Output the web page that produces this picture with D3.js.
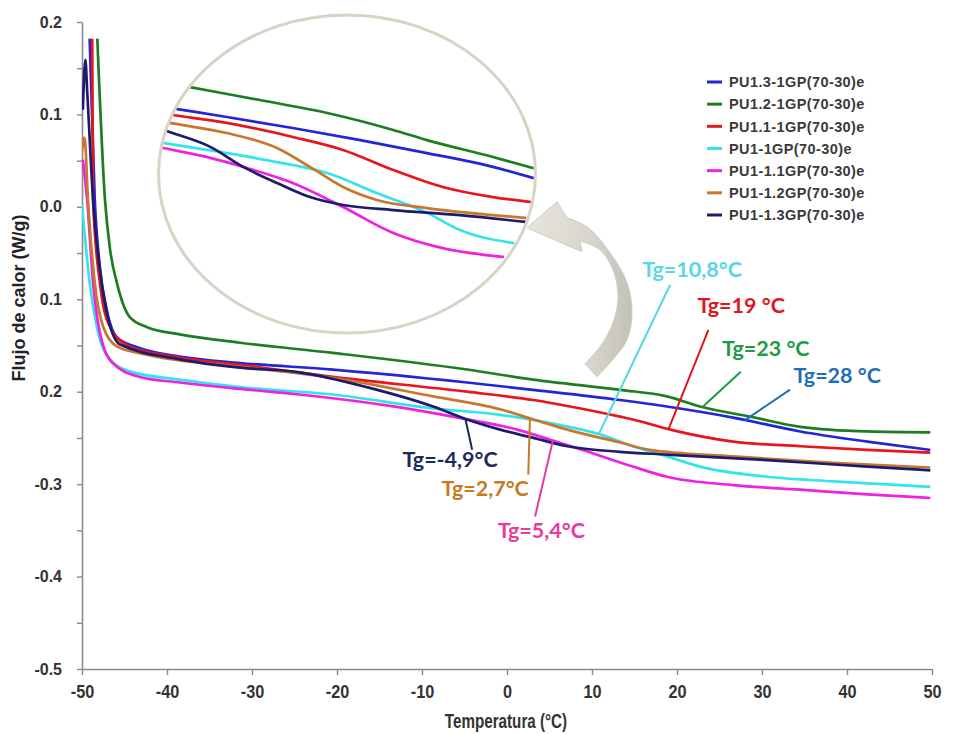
<!DOCTYPE html>
<html>
<head>
<meta charset="utf-8">
<script src="https://cdn.jsdelivr.net/npm/d3@7"></script>
<style>
  body { margin: 0; background: #ffffff; }
  svg { display: block; }
</style>
</head>
<body>
<svg id="chart" width="955" height="734"></svg>
<script>
// ---- Series (temperature in °C, heat flow in W/g) ----
const seriesNames = [
  "PU1.3-1GP(70-30)e", "PU1.2-1GP(70-30)e", "PU1.1-1GP(70-30)e", "PU1-1GP(70-30)e",
  "PU1-1.1GP(70-30)e", "PU1-1.2GP(70-30)e", "PU1-1.3GP(70-30)e"
];
const seriesColors = ["#2525d8", "#1e7d22", "#e8161b", "#33e4ea", "#ee22e0", "#c8772f", "#1c1c6e"];

const tBlue = [-49.1, -48.5, -47.9, -47.1, -45.9, -43.5, -38.5, -31.4, -20.5, -4.7, 3.1, 13.3, 18.8, 26.6, 34.5, 42.4, 49.8];
const qBlue = [0.182, 0.008, -0.065, -0.111, -0.141, -0.152, -0.162, -0.169, -0.176, -0.190, -0.198, -0.209, -0.216, -0.228, -0.243, -0.254, -0.263];

const tGreen = [-48.2, -47.3, -46.7, -45.9, -44.4, -42.4, -38.5, -31.4, -20.5, -4.7, 3.1, 13.3, 18.8, 22.7, 28.6, 34.5, 42.4, 49.8];
const qGreen = [0.182, 0.008, -0.046, -0.082, -0.119, -0.130, -0.138, -0.147, -0.158, -0.176, -0.187, -0.198, -0.205, -0.216, -0.227, -0.238, -0.243, -0.244];

const tRed = [-48.8, -48.7, -47.9, -46.7, -44.4, -38.5, -31.4, -20.5, -4.7, 3.1, 13.3, 14.8, 19.2, 26.6, 34.5, 42.4, 49.8];
const qRed = [0.182, 0.008, -0.082, -0.130, -0.151, -0.163, -0.171, -0.184, -0.200, -0.209, -0.227, -0.230, -0.241, -0.254, -0.259, -0.263, -0.266];

const tCyan = [-50.0, -49.1, -48.1, -46.7, -44.4, -38.5, -31.4, -20.5, -8.7, -0.8, 5.1, 10.9, 14.8, 18.8, 22.7, 30.6, 38.4, 49.8];
const qCyan = [0.002, -0.082, -0.136, -0.165, -0.178, -0.187, -0.195, -0.203, -0.218, -0.225, -0.234, -0.246, -0.259, -0.270, -0.281, -0.292, -0.297, -0.303];

const tMagenta = [-49.9, -49.4, -48.7, -47.9, -46.4, -43.2, -38.5, -31.4, -24.4, -12.6, -4.7, 1.2, 5.1, 8.9, 14.8, 18.8, 26.6, 34.5, 42.4, 49.8];
const qMagenta = [0.051, 0.008, -0.082, -0.136, -0.169, -0.184, -0.190, -0.197, -0.203, -0.217, -0.230, -0.241, -0.252, -0.263, -0.281, -0.292, -0.301, -0.306, -0.311, -0.315];

const tOrange = [-50.0, -49.7, -49.3, -48.5, -47.5, -45.9, -42.4, -31.4, -20.5, -8.7, -0.8, 3.1, 7.1, 13.3, 16.8, 26.6, 38.4, 49.8];
const qOrange = [0.060, 0.075, 0.008, -0.082, -0.130, -0.151, -0.160, -0.173, -0.185, -0.205, -0.219, -0.230, -0.241, -0.255, -0.263, -0.270, -0.277, -0.282];

const tNavy = [-49.9, -49.6, -49.4, -48.7, -47.9, -46.9, -45.5, -38.5, -31.4, -24.4, -16.5, -8.7, -4.7, -0.8, 3.1, 7.1, 13.3, 18.8, 30.6, 42.4, 49.8];
const qNavy = [0.105, 0.159, 0.127, 0.008, -0.068, -0.122, -0.149, -0.165, -0.174, -0.179, -0.195, -0.216, -0.230, -0.241, -0.250, -0.259, -0.265, -0.268, -0.274, -0.281, -0.285];

// ---- Magnified view of the glass-transition region ----
const itBlue = [-31, -27.7, -21.1, -12.3, -3.3, 5.6, 14.4, 19.7];
const iqBlue = [-0.1705, -0.1723, -0.1759, -0.1809, -0.1864, -0.1923, -0.1986, -0.2036];
const itGreen = [-31, -26.0, -16.7, -7.7, 1.1, 5.6, 14.4, 19.7];
const iqGreen = [-0.1591, -0.1623, -0.1682, -0.1741, -0.1818, -0.1864, -0.1941, -0.1991];
const itRed = [-31, -28.3, -21.1, -12.3, -5.6, 1.1, 7.7, 14.4, 19.3];
const iqRed = [-0.1736, -0.1750, -0.1786, -0.1850, -0.1909, -0.2000, -0.2077, -0.2123, -0.2145];
const itCyan = [-31, -29.6, -21.1, -14.4, -7.7, -1.1, 5.6, 10.0, 17.1];
const iqCyan = [-0.1869, -0.1877, -0.1923, -0.1964, -0.2014, -0.2105, -0.2195, -0.2273, -0.2332];
const itMagenta = [-31, -29.6, -23.3, -18.9, -12.3, -5.6, 1.1, 7.7, 15.7];
const iqMagenta = [-0.1890, -0.1900, -0.1945, -0.1986, -0.2059, -0.2168, -0.2286, -0.2355, -0.2395];
const itOrange = [-31, -28.7, -21.1, -14.4, -10.0, -5.6, -1.1, 5.6, 14.4, 18.7];
const iqOrange = [-0.1772, -0.1786, -0.1832, -0.1900, -0.1986, -0.2077, -0.2136, -0.2173, -0.2205, -0.2218];
const itNavy = [-31, -29.1, -23.3, -18.9, -14.4, -10.0, -5.6, 1.1, 10.0, 18.7];
const iqNavy = [-0.1799, -0.1823, -0.1895, -0.1986, -0.2059, -0.2123, -0.2159, -0.2182, -0.2205, -0.2236];

// ---- Axes ----
const xTickValues = [-50, -40, -30, -20, -10, 0, 10, 20, 30, 40, 50];
const xTickLabels = ["-50", "-40", "-30", "-20", "-10", "0", "10", "20", "30", "40", "50"];
const yTickValues = [0.2, 0.1, 0.0, -0.1, -0.2, -0.3, -0.4, -0.5];
const yTickLabels = ["0.2", "0.1", "0.0", "0.1", "0.2", "-0.3", "-0.4", "-0.5"];
const yMinorValues = [0.15, 0.05, -0.05, -0.15, -0.25, -0.35, -0.45];

// ---- Glass-transition temperatures ----
const tgValues = [10.8, 19, 23, 28, -4.9, 2.7, 5.4];
const tgLabels = ["Tg=10,8°C", "Tg=19 °C", "Tg=23 °C", "Tg=28 °C", "Tg=-4,9°C", "Tg=2,7°C", "Tg=5,4°C"];
const tgSeries = [3, 2, 1, 0, 6, 5, 4];
const tgColors = ["#5ad6e4", "#e0161e", "#1f9a48", "#1f6fb4", "#1b2a5c", "#c87a22", "#e83a9a"];
// label anchor (°C, W/g) and the label-side end of each leader
const tgLabelT = [15.9, 22.4, 25.3, 33.7, -12.3, -7.7, -1.1];
const tgLabelQ = [-0.0757, -0.1146, -0.161, -0.1903, -0.281, -0.3124, -0.3578];
const tgLeadT = [19.2, 23.7, 27.5, 33.3, -4.1, 2.5, 3.3];
const tgLeadQ = [-0.0843, -0.133, -0.1784, -0.1978, -0.2627, -0.2897, -0.3351];

const mainT = [tBlue, tGreen, tRed, tCyan, tMagenta, tOrange, tNavy];
const mainQ = [qBlue, qGreen, qRed, qCyan, qMagenta, qOrange, qNavy];
const insetT = [itBlue, itGreen, itRed, itCyan, itMagenta, itOrange, itNavy];
const insetQ = [iqBlue, iqGreen, iqRed, iqCyan, iqMagenta, iqOrange, iqNavy];

const series = seriesNames.map((name, i) => ({
  name, color: seriesColors[i],
  pts: mainT[i].map((t, j) => [t, mainQ[i][j]]),
  inset: insetT[i].map((t, j) => [t, insetQ[i][j]])
}));

const svg = d3.select("#chart");
const x = d3.scaleLinear().domain([-50, 50]).range([82, 932]);
const y = d3.scaleLinear().domain([-0.5, 0.2]).range([669, 22]);

const axisColor = "#8a8a8a";
const labelFont = "'Liberation Sans', Arial, sans-serif";

// clip region for the curves
const defs = svg.append("defs");
defs.append("clipPath").attr("id", "plotClip").append("rect")
  .attr("x", x(-50)).attr("y", y(0.2) + 14).attr("width", x(50) - x(-50) + 4).attr("height", y(-0.5) - y(0.2) - 14);

// ---- x axis (condensed bold labels) ----
const gx = svg.append("g").attr("transform", `translate(0,${y(-0.5)})`)
  .call(d3.axisBottom(x).tickValues(xTickValues).tickSize(6).tickSizeOuter(0).tickPadding(10)
    .tickFormat((d, i) => xTickLabels[i]));
gx.select(".domain").attr("stroke", axisColor).attr("stroke-width", 1.6);
gx.selectAll(".tick line").attr("stroke", axisColor).attr("stroke-width", 1.4);
gx.selectAll(".tick text").attr("fill", "#333").attr("font-family", labelFont)
  .attr("font-weight", "bold").attr("font-size", 18.5).attr("transform", "scale(0.88,1)");

// ---- y axis ----
const yAllTicks = yTickValues.concat(yMinorValues).sort((a, b) => a - b);
const gy = svg.append("g").attr("transform", `translate(${x(-50)},0)`)
  .call(d3.axisLeft(y).tickValues(yAllTicks).tickSize(5).tickSizeOuter(0).tickPadding(15)
    .tickFormat(d => {
      const k = yTickValues.findIndex(v => Math.abs(v - d) < 1e-9);
      return k >= 0 ? yTickLabels[k] : "";
    }));
gy.select(".domain").attr("stroke", axisColor).attr("stroke-width", 1.6);
gy.selectAll(".tick line").attr("stroke", axisColor).attr("stroke-width", 1.4);
gy.selectAll(".tick text").attr("fill", "#333").attr("font-family", labelFont)
  .attr("font-weight", "bold").attr("font-size", 16);

// axis titles
svg.append("text").attr("transform", "translate(506,728) scale(0.76,1)")
  .attr("text-anchor", "middle").attr("font-family", labelFont).attr("font-weight", "bold")
  .attr("font-size", 20).attr("fill", "#333").text("Temperatura (°C)");
svg.append("text").attr("transform", `translate(25,298) rotate(-90)`)
  .attr("text-anchor", "middle").attr("font-family", labelFont).attr("font-weight", "bold")
  .attr("font-size", 18).attr("fill", "#222").text("Flujo de calor (W/g)");

// ---- curves ----
const line = d3.line().x(d => x(d[0])).y(d => y(d[1])).curve(d3.curveMonotoneX);
svg.append("g").attr("clip-path", "url(#plotClip)")
  .selectAll("path").data(series).join("path")
  .attr("d", d => line(d.pts)).attr("fill", "none")
  .attr("stroke", d => d.color).attr("stroke-width", 2.7).attr("stroke-linejoin", "round");

// ---- magnified inset ----
const ix = d3.scaleLinear().domain([-30, 20]).range([160, 535]);
const iy = d3.scaleLinear().domain([-0.25, -0.15]).range([280, 60]);
const ell = { cx: (ix(-30) + ix(20)) / 2 - 0.5, cy: 174, rx: 188.5, ry: 159 };
defs.append("clipPath").attr("id", "insetClip").append("ellipse")
  .attr("cx", ell.cx).attr("cy", ell.cy).attr("rx", ell.rx - 1.5).attr("ry", ell.ry - 1.5);
svg.append("ellipse").attr("cx", ell.cx).attr("cy", ell.cy).attr("rx", ell.rx).attr("ry", ell.ry)
  .attr("fill", "#ffffff").attr("stroke", "#d7d3c5").attr("stroke-width", 3);
const iline = d3.line().x(d => ix(d[0])).y(d => iy(d[1])).curve(d3.curveMonotoneX);
svg.append("g").attr("clip-path", "url(#insetClip)")
  .selectAll("path").data(series).join("path")
  .attr("d", d => iline(d.inset)).attr("fill", "none")
  .attr("stroke", d => d.color).attr("stroke-width", 2.7).attr("stroke-linecap", "round");

// ---- curved pointer from the curves up to the inset ----
const arrowHead = [[2.35, -0.0227], [5.88, 0.0054], [7.06, -0.0119]];
const arrowOuter = [[7.06, -0.0119], [9.41, -0.0216], [12.12, -0.0497], [14.12, -0.0822], [14.71, -0.1146], [14.12, -0.1438], [12.12, -0.1686], [10.59, -0.1838]];
const arrowInner = [[9.18, -0.1697], [10.94, -0.1514], [12.47, -0.1254], [13.06, -0.0973], [12.47, -0.0681], [10.94, -0.0465], [8.59, -0.0368]];
const arrowBarb = [[8.82, -0.0486], [2.35, -0.0227]];
const grad = defs.append("linearGradient").attr("id", "arrowFill")
  .attr("x1", "0").attr("y1", "0").attr("x2", "1").attr("y2", "0");
grad.append("stop").attr("offset", "0%").attr("stop-color", "#e6e4dc");
grad.append("stop").attr("offset", "60%").attr("stop-color", "#d8d6cc");
grad.append("stop").attr("offset", "100%").attr("stop-color", "#c3c1b6");
const px = p => [x(p[0]), y(p[1])];
const smooth = d3.line().curve(d3.curveCatmullRom);
const straight = d3.line();
const arrowPath =
  straight(arrowHead.map(px)) +
  smooth(arrowOuter.map(px)).replace(/^M/, "L") +
  smooth(arrowInner.map(px)).replace(/^M/, "L") +
  straight(arrowBarb.map(px)).replace(/^M/, "L") + "Z";
svg.append("path").attr("d", arrowPath).attr("fill", "url(#arrowFill)")
  .attr("stroke", "#cfcdc2").attr("stroke-width", 1).attr("stroke-linejoin", "round");

// ---- Tg annotations ----
function valueAt(pts, t) {
  const i = d3.bisector(d => d[0]).right(pts, t);
  const a = pts[Math.max(0, i - 1)], b = pts[Math.min(pts.length - 1, i)];
  if (a === b) return a[1];
  return a[1] + (b[1] - a[1]) * (t - a[0]) / (b[0] - a[0]);
}
const ann = svg.append("g");
tgValues.forEach((tg, i) => {
  const s = series[tgSeries[i]];
  ann.append("line")
    .attr("x1", x(tgLeadT[i])).attr("y1", y(tgLeadQ[i]))
    .attr("x2", x(tg)).attr("y2", y(valueAt(s.pts, tg)))
    .attr("stroke", tgColors[i]).attr("stroke-width", 2);
  ann.append("text").attr("x", x(tgLabelT[i])).attr("y", y(tgLabelQ[i]))
    .attr("font-family", "Lato, 'Open Sans', sans-serif").attr("font-weight", "bold")
    .attr("font-size", 21.5).attr("fill", tgColors[i]).text(tgLabels[i]);
});

// ---- legend ----
const ly = d3.scalePoint().domain(seriesNames).range([82, 215]);
const leg = svg.append("g");
seriesNames.forEach((name, i) => {
  leg.append("line").attr("x1", 707).attr("x2", 722).attr("y1", ly(name)).attr("y2", ly(name))
    .attr("stroke", seriesColors[i]).attr("stroke-width", 3);
  leg.append("text").attr("x", 729).attr("y", ly(name)).attr("dy", "0.36em")
    .attr("font-family", labelFont).attr("font-weight", "bold").attr("font-size", 14.5)
    .attr("letter-spacing", 0.4).attr("fill", "#3a3a3a").text(name);
});
</script>
</body>
</html>
